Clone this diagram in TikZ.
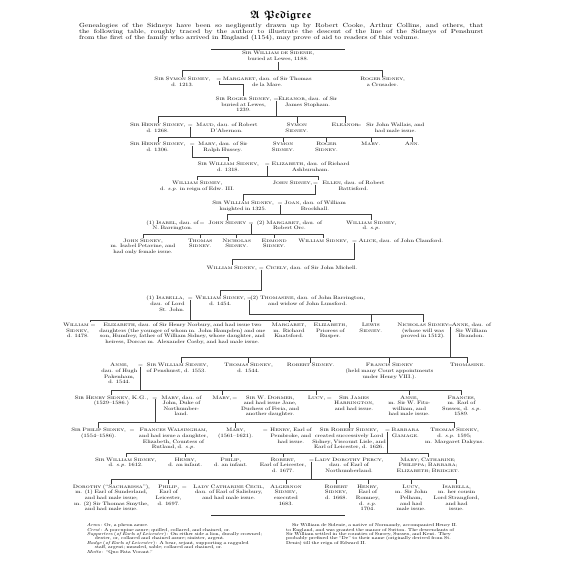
\documentclass[tikz,border=0pt]{standalone}
\usepackage{fontspec}
\usepackage{amssymb}
\setmainfont{lmroman10-regular.otf}[FakeStretch=1.28, ItalicFont=lmroman10-italic.otf, SmallCapsFont=lmromancaps10-regular.otf]
\usetikzlibrary{positioning}
\newcommand{\treefont}{\fontsize{5}{5.7}\selectfont}
\newcommand{\introfont}{\fontsize{6}{6.4}\selectfont}
\newcommand{\notefont}{\fontsize{4.4}{4.45}\selectfont\lineskiplimit=-5pt\lineskip=0pt}
\newcommand{\titlefont}{\fontsize{11}{11}\selectfont}
\newcommand{\fullline}[1]{\makebox[192pt][s]{#1}}

\begin{document}
\begin{tikzpicture}[x=1pt, y=-1pt,
    person/.style={font=\treefont, inner sep=0pt, outer sep=0.8pt, anchor=base, yshift=1.3pt, text width=200pt, align=center},
    wed/.style={font=\treefont, inner sep=0pt, outer sep=0.3pt, anchor=base, yshift=1.3pt},
    note/.style={font=\notefont, inner sep=0pt},
    link/.style={draw=black!75, line width=0.45pt},
    rule/.style={draw=black!80, line width=0.6pt}
]
\path[fill=white] (0,0) rectangle (450,570);
\node[font=\titlefont, inner sep=0pt] (title) at (225,15.5) {{\boldmath$\mathfrak{A}$ $\mathfrak{Pedigree}$}};
\node[font=\introfont, inner sep=0pt, anchor=base west, text width=410pt, align=justify] (intro) at (20,27.5) {Genealogies of the Sidneys have been so negligently drawn up by Robert Cooke, Arthur Collins, and others, that\linebreak the following table, roughly traced by the author to illustrate the descent of the line of the Sidneys of Penshurst\linebreak from the first of the family who arrived in England (1154), may prove of aid to readers of this volume.};
\draw[rule] (154,50) -- (290,50);

\node[person] (sidenie) at (222,56.5) {\textsc{Sir William de Sidenie},\\buried at Lewes, 1188.};
\coordinate (bar1) at (0,71.5);
\node[person] (symon) at (125,83.2) {\textsc{Sir Symon Sidney},\\d. 1213.};
\node[wed] (e1) at (162,83.2) {=};
\node[person] (margaret) at (211,83.2) {\textsc{Margaret}, dau. of Sir Thomas\\de la Mare.};
\node[person] (crusader) at (328,83.2) {\textsc{Roger Sidney},\\a Crusader.};
\coordinate (jn1) at (0,85.5);
\node[person] (roger) at (187,103.2) {\textsc{Sir Roger Sidney},\\buried at Lewes,\\1239.};
\node[wed] (e2) at (220,103.2) {=};
\node[person] (stopham) at (252,103.2) {\textsc{Eleanor}, dau. of Sir\\James Stopham.};
\coordinate (bar2) at (0,117.8);
\node[person] (henryA) at (100,130) {\textsc{Sir Henry Sidney},\\d. 1268.};
\node[wed] (e3) at (133,130) {=};
\node[person] (maud) at (170,130) {\textsc{Maud}, dau. of Robert\\D'Abernon.};
\node[person] (symonA) at (241,130) {\textsc{Symon}\\\textsc{Sidney}.};
\node[person] (eleanor) at (290,130) {\textsc{Eleanor}};
\node[wed] (e4) at (304,130) {=};
\node[person] (wallais) at (341,130) {Sir John Wallais, and\\had male issue.};
\coordinate (bar3) at (0,138.7);
\node[person] (henryB) at (100,149.3) {\textsc{Sir Henry Sidney},\\d. 1306.};
\node[wed] (e5) at (135,149.3) {=};
\node[person] (hussey) at (166,149.3) {\textsc{Mary}, dau. of Sir\\Ralph Hussey.};
\node[person] (symonB) at (227,149.3) {\textsc{Symon}\\\textsc{Sidney}.};
\node[person] (rogerB) at (271,149.3) {\textsc{Roger}\\\textsc{Sidney}.};
\node[person] (maryB) at (316,149.3) {\textsc{Mary}.};
\node[person] (annB) at (358,149.3) {\textsc{Ann}.};
\coordinate (jn4) at (0,159);
\node[person] (william1318) at (171.5,169.3) {\textsc{Sir William Sidney},\\d. 1318.};
\node[wed] (e6) at (211,169.3) {=};
\node[person] (ashburnham) at (255,169.3) {\textsc{Elizabeth}, dau. of Richard\\Ashburnham.};
\coordinate (bar5) at (0,178.3);
\node[person] (williamE3) at (140,188.5) {\textsc{William Sidney},\\d. \textit{s.p.} in reign of Edw. III.};
\node[person, text width=50pt] (johnA) at (236.5,188.5) {\textsc{John Sidney},};
\node[wed] (e7) at (260,188.5) {=};
\node[person] (ellen) at (298.5,188.5) {\textsc{Ellen}, dau. of Robert\\Battisford.};
\coordinate (jn6) at (0,197);
\node[person] (william1325) at (186.5,209) {\textsc{Sir William Sidney},\\knighted in 1325.};
\node[wed] (e8) at (224,209) {=};
\node[person] (joan) at (259.5,209) {\textsc{Joan}, dau. of William\\Brockhall.};
\coordinate (bar7) at (0,217.7);
\node[person] (isabel) at (115,228.5) {(1) \textsc{Isabel}, dau. of\\N. Barrington.};
\node[wed] (e9) at (145,228.5) {=};
\node[person] (johnB) at (170.5,228.5) {\textsc{John Sidney}};
\node[wed] (e10) at (194.5,228.5) {=};
\node[person] (orc) at (233.5,228.5) {(2) \textsc{Margaret}, dau. of\\Robert Orc.};
\node[person] (williamSP) at (316.5,228.5) {\textsc{William Sidney},\\d. \textit{s.p.}};
\coordinate (bar8) at (0,238);
\node[person] (johnC) at (85,247) {\textsc{John Sidney},\\m. Isabel Petavine, and\\had only female issue.};
\node[person] (thomasC) at (143,247) {\textsc{Thomas}\\\textsc{Sidney}.};
\node[person] (nicholasC) at (180,247) {\textsc{Nicholas}\\\textsc{Sidney}.};
\node[person] (edmondC) at (218,247) {\textsc{Edmond}\\\textsc{Sidney}.};
\node[person] (williamC) at (268,247) {\textsc{William Sidney},};
\node[wed] (e11) at (299.5,247) {=};
\node[person] (alice) at (346.5,247) {\textsc{Alice}, dau. of John Clamford.};
\coordinate (jn9) at (0,263.3);
\node[person] (williamD) at (175,274.3) {\textsc{William Sidney},};
\node[wed] (e12) at (205,274.3) {=};
\node[person] (cicely) at (256,274.3) {\textsc{Cicely}, dau. of Sir John Michell.};
\coordinate (jn10) at (0,294.7);
\node[person, anchor=base east, text width=45pt, align=right] (isabella) at (128,305.3) {(1) \textsc{Isabella},\\dau. of Lord\\St. John.};
\node[wed] (e13) at (133,305.3) {=};
\node[person] (william1454) at (163.5,305.3) {\textsc{William Sidney},\\d. 1454.};
\node[wed] (e14) at (193,305.3) {=};
\node[person] (thomasine) at (252,305.3) {(2) \textsc{Thomasine}, dau. of John Barrington,\\and widow of John Lunsford.};
\coordinate (barA) at (0,324.7);
\coordinate (barB) at (0,318.7);
\node[person, anchor=base east, text width=30pt, align=right] (william1478) at (31,332.5) {\textsc{William}\\\textsc{Sidney},\\d. 1478.};
\node[wed] (e15) at (34.5,332.5) {=};
\node[person] (norbury) at (125,332.5) {\textsc{Elizabeth}, dau. of Sir Henry Norbury, and had issue two\\daughters (the younger of whom m. John Hampden) and one\\son, Humfrey, father of William Sidney, whose daughter, and\\heiress, Dorcas m. Alexander Cosby, and had male issue.};
\node[person] (knatsford) at (233,332.5) {\textsc{Margaret},\\m. Richard\\Knatsford.};
\node[person] (rusper) at (275,332.5) {\textsc{Elizabeth},\\Prioress of\\Rusper.};
\node[person] (lewis) at (316,332.5) {\textsc{Lewis}\\\textsc{Sidney}.};
\node[person] (nicholas) at (369,332.5) {\textsc{Nicholas Sidney}\\(whose will was\\proved in 1512).};
\node[wed] (e16) at (397,332.5) {=};
\node[person] (brandon) at (418,332.5) {\textsc{Anne}, dau. of\\Sir William\\Brandon.};
\coordinate (bar12) at (0,362.7);
\node[person] (pakenham) at (61,373.3) {\textsc{Anne},\\dau. of Hugh\\Pakenham,\\d. 1544.};
\node[wed] (e17) at (82.5,373.3) {=};
\node[person, anchor=base west, text width=70pt, align=left] (penshurst) at (88,373.3) {\textsc{Sir William Sidney},\\of Penshurst, d. 1553.};
\node[person] (thomas1544) at (192,373.3) {\textsc{Thomas Sidney},\\d. 1544.};
\node[person] (robertS) at (255,373.3) {\textsc{Robert Sidney}.};
\node[person] (francis) at (335,373.3) {\textsc{Francis Sidney}\\(held many Court appointments\\under Henry VIII.).};
\node[person] (thomasineS) at (414,373.3) {\textsc{Thomasine}.};
\coordinate (bar13) at (0,395.7);
\node[person] (henryKG) at (53,406) {\textsc{Sir Henry Sidney, K.G.},\\(1529--1586.)};
\node[wed] (e18) at (97,406) {=};
\node[person] (dudley) at (124,406) {\textsc{Mary}, dau. of\\John, Duke of\\Northumber-\\land.};
\node[person] (maryD) at (165,406) {\textsc{Mary},};
\node[wed] (e19) at (178,406) {=};
\node[person] (dormer) at (214,406) {\textsc{Sir W. Dormer},\\and had issue Jane,\\Duchess of Feria, and\\another daughter.};
\node[person] (lucyH) at (261,406) {\textsc{Lucy},};
\node[wed] (e20) at (274,406) {=};
\node[person] (harington) at (299,406) {\textsc{Sir James}\\\textsc{Harrington},\\and had issue.};
\node[person] (anneF) at (355,406) {\textsc{Anne},\\m. Sir W. Fitz-\\william, and\\had male issue.};
\node[person] (frances) at (408,406) {\textsc{Frances},\\m. Earl of\\Sussex, d. \textit{s.p.}\\1589.};
\coordinate (bar14) at (0,428.5);
\node[person] (philip) at (40,439.3) {\textsc{Sir Philip Sidney},\\(1554--1586).};
\node[wed] (e21) at (74,439.3) {=};
\node[person] (walsingham) at (116,439.3) {\textsc{Frances Walsingham},\\and had issue a daughter,\\Elizabeth, Countess of\\Rutland, d. \textit{s.p.}};
\node[person] (mary1621) at (179,439.3) {\textsc{Mary},\\(1561--1621).};
\node[wed] (e22) at (209,439.3) {=};
\node[person] (pembroke) at (235,439.3) {\textsc{Henry}, Earl of\\Pembroke, and\\had issue.};
\node[person] (robert1626) at (294,439.3) {\textsc{Sir Robert Sidney},\\created successively Lord\\Sidney, Viscount Lisle, and\\Earl of Leicester, d. 1626.};
\node[wed] (e23) at (333,439.3) {=};
\node[person] (gamage) at (351,439.3) {\textsc{Barbara}\\\textsc{Gamage}.};
\node[person] (thomasD) at (401,439.3) {\textsc{Thomas Sidney},\\d. \textit{s.p.} 1595;\\m. Margaret Dakyns.};
\coordinate (bar15) at (0,459.6);
\node[person] (william1612) at (67.5,469) {\textsc{Sir William Sidney},\\d. \textit{s.p.} 1612.};
\node[person] (henryI) at (128,469) {\textsc{Henry},\\d. an infant.};
\node[person] (philipI) at (174,469) {\textsc{Philip},\\d. an infant.};
\node[person] (robert1677) at (227,469) {\textsc{Robert},\\Earl of Leicester,\\d. 1677.};
\node[wed] (e24) at (256,469) {=};
\node[person] (percy) at (294,469) {\textsc{Lady Dorothy Percy},\\dau. of Earl of\\Northumberland.};
\node[person] (sisters) at (374,469) {\textsc{Mary}; \textsc{Catharine};\\\textsc{Philippa}; \textsc{Barbara};\\\textsc{Elizabeth}; \textsc{Bridget}.};
\coordinate (bar16) at (0,486);
\node[person] (sacharissa) at (53,496.5) {\textsc{Dorothy} (“\textsc{Sacharissa}”),\\m. (1) Earl of Sunderland,\\and had male issue;\\m. (2) Sir Thomas Smythe,\\and had male issue.};
\node[person] (philip1697) at (111,496.5) {\textsc{Philip},\\Earl of\\Leicester,\\d. 1697.};
\node[wed] (e25) at (127,496.5) {=};
\node[person] (cecil) at (172,496.5) {\textsc{Lady Catharine Cecil},\\dau. of Earl of Salisbury,\\and had male issue.};
\node[person] (algernon) at (230,496.5) {\textsc{Algernon}\\\textsc{Sidney},\\executed\\1683.};
\node[person] (robert1668) at (281,496.5) {\textsc{Robert}\\\textsc{Sidney},\\d. 1668.};
\node[person] (romney) at (313,496.5) {\textsc{Henry},\\Earl of\\Romney,\\d. \textit{s.p.}\\1704.};
\node[person] (pelham) at (357,496.5) {\textsc{Lucy},\\m. Sir John\\Pelham,\\and had\\male issue.};
\node[person] (strangford) at (403,496.5) {\textsc{Isabella},\\m. her cousin\\Lord Strangford,\\and had\\issue.};
\draw[rule] (154,523) -- (290,523);

\node[note, anchor=base west, text width=215pt, align=left] (heraldry) at (28,534.2) {\textit{Arms}\,: Or, a pheon azure.\\
\textit{Crest}\,: A porcupine azure; quilled, collared, and chained, or.\\
\textit{Supporters} (\textit{of Earls of Leicester})\,: On either side a lion, ducally crowned;\\
\hspace*{8pt}dexter, or, collared and chained azure; sinister, argent.\\
\textit{Badge} (\textit{of Earls of Leicester})\,: A bear, sejant, supporting a ragguled\\
\hspace*{8pt}staff, argent; muzzled, sable; collared and chained, or.\\
\textit{Motto}\,: “Quo Fata Vocant.”};
\node[note, anchor=base west, text width=192pt, align=left] (origin) at (230,534.2) {\fullline{\hspace*{6pt}Sir William de Sidenie, a native of Normandy, accompanied Henry II.}\\
\fullline{to England, and was granted the manor of Sutton. The descendants of}\\
\fullline{Sir William settled in the counties of Surrey, Sussex, and Kent. They}\\
\fullline{probably prefixed the “De” to their name (originally derived from St.}\\
Denis) till the reign of Edward II.};

\draw[link] (sidenie.south) -- (sidenie.south |- bar1);
\draw[link] (symon.north) |- (crusader.north |- bar1) -- (crusader.north);
\draw[link] (e1.south) |- (roger.north |- jn1) -- (roger.north);
\draw[link] (e2.south) -- (e2.south |- bar2);
\draw[link] (henryA.north) |- (eleanor.north |- bar2) -- (eleanor.north);
\draw[link] (symonA.north) -- (symonA.north |- bar2);
\draw[link] (e3.south) -- (e3.south |- bar3);
\draw[link] (henryB.north) |- (annB.north |- bar3) -- (annB.north);
\draw[link] (symonB.north) -- (symonB.north |- bar3);
\draw[link] (rogerB.north) -- (rogerB.north |- bar3);
\draw[link] (maryB.north) -- (maryB.north |- bar3);
\draw[link] (e5.south) |- (william1318.north |- jn4) -- (william1318.north);
\draw[link] (e6.south) -- (e6.south |- bar5);
\draw[link] (williamE3.north) |- (johnA.north east |- bar5) -- (johnA.north east);
\draw[link] (e7.south) |- (william1325.north |- jn6) -- (william1325.north);
\draw[link] (e8.south) -- (e8.south |- bar7);
\draw[link] (johnB.north) |- (williamSP.north |- bar7) -- (williamSP.north);
\draw[link] (e10.south) -- (e10.south |- bar8);
\draw[link] (johnC.north) |- (williamC.north |- bar8) -- (williamC.north);
\draw[link] (thomasC.north) -- (thomasC.north |- bar8);
\draw[link] (nicholasC.north) -- (nicholasC.north |- bar8);
\draw[link] (edmondC.north) -- (edmondC.north |- bar8);
\draw[link] (e11.south) |- (williamD.north |- jn9) -- (williamD.north);
\draw[link] (e12.south) |- (william1454.north |- jn10) -- (william1454.north);
\draw[link] (e13.south) -- (e13.south |- barA);
\draw[link] (william1478.north east) |- (rusper.north |- barA) -- (rusper.north);
\draw[link] (knatsford.north) -- (knatsford.north |- barA);
\draw[link] (e14.south) |- (nicholas.north |- barB) -- (nicholas.north);
\draw[link] (lewis.north) -- (lewis.north |- barB);
\draw[link] (e16.south) -- (e16.south |- bar12);
\draw[link] (penshurst.north) |- (thomasineS.north |- bar12) -- (thomasineS.north);
\draw[link] (thomas1544.north) -- (thomas1544.north |- bar12);
\draw[link] (robertS.north) -- (robertS.north |- bar12);
\draw[link] (francis.north) -- (francis.north |- bar12);
\draw[link] (e17.south) -- (e17.south |- bar13);
\draw[link] (henryKG.north) |- (frances.north |- bar13) -- (frances.north);
\draw[link] (maryD.north) -- (maryD.north |- bar13);
\draw[link] (lucyH.north) -- (lucyH.north |- bar13);
\draw[link] (anneF.north) -- (anneF.north |- bar13);
\draw[link] (e18.south) -- (e18.south |- bar14);
\draw[link] (philip.north) |- (thomasD.north |- bar14) -- (thomasD.north);
\draw[link] (mary1621.north) -- (mary1621.north |- bar14);
\draw[link] (robert1626.north) -- (robert1626.north |- bar14);
\draw[link] (e23.south) -- (e23.south |- bar15);
\draw[link] (william1612.north) |- (sisters.north |- bar15) -- (sisters.north);
\draw[link] (henryI.north) -- (henryI.north |- bar15);
\draw[link] (philipI.north) -- (philipI.north |- bar15);
\draw[link] (robert1677.north) -- (robert1677.north |- bar15);
\draw[link] (e24.south) -- (e24.south |- bar16);
\draw[link] (sacharissa.north) |- (strangford.north |- bar16) -- (strangford.north);
\draw[link] (philip1697.north) -- (philip1697.north |- bar16);
\draw[link] (algernon.north) -- (algernon.north |- bar16);
\draw[link] (robert1668.north) -- (robert1668.north |- bar16);
\draw[link] (romney.north) -- (romney.north |- bar16);
\draw[link] (pelham.north) -- (pelham.north |- bar16);
\end{tikzpicture}
\end{document}
